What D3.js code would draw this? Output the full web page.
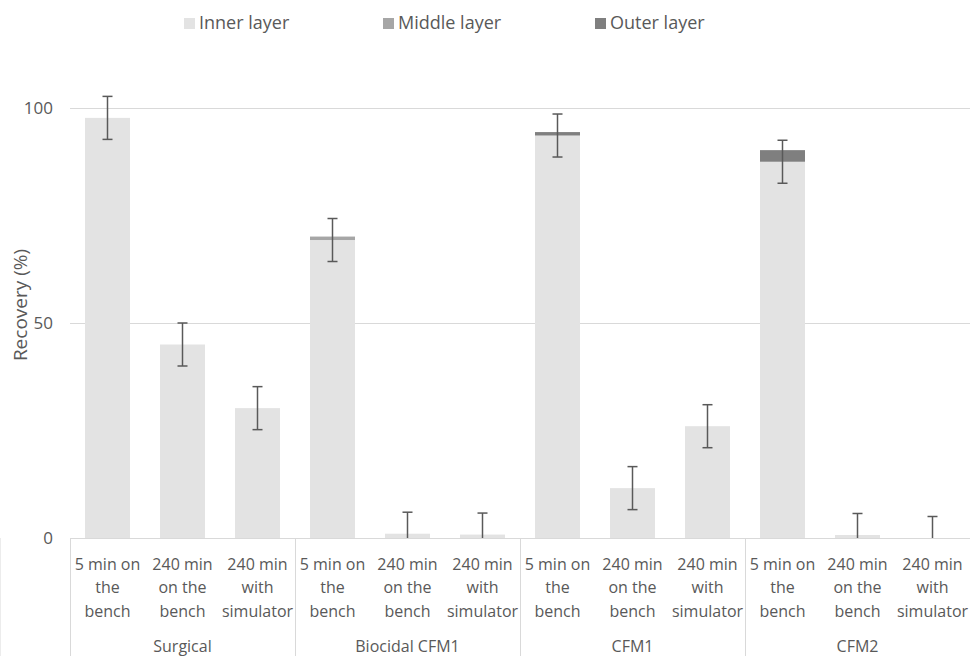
<!DOCTYPE html>
<meta charset="utf-8">
<style>
body { margin: 0; background: #fff; }
text { font-family: "Open Sans", Lato, sans-serif; fill: #595959; }
</style>
<script src="https://d3js.org/d3.v7.min.js"></script>
<body>
<script>

var width = 972, height = 656

// data
var groups = ["Surgical", "Biocidal CFM1", "CFM1", "CFM2"]
var conditions = [["5 min on", "the", "bench"], ["240 min", "on the", "bench"], ["240 min", "with", "simulator"]]
var inner  = [97.7, 45, 30.2,  69.3, 1, 0.8,  93.6, 11.6, 26,  87.5, 0.7, 0]
var middle = [0, 0, 0,  0.8, 0, 0,  0, 0, 0,  0, 0, 0]
var outer  = [0, 0, 0,  0, 0, 0,  0.8, 0, 0,  2.7, 0, 0]
var errs   = [5, 5, 5,  5, 5, 5,  5, 5, 5,  5, 5, 5]
var layers = ["Inner layer", "Middle layer", "Outer layer"]
var colors = ["#e3e3e3", "#a6a6a6", "#7f7f7f"]
var yTicks = [0, 50, 100]

var rows = inner.map((v, i) => ({i: i, inner: v, middle: middle[i], outer: outer[i], err: errs[i]}))

var svg = d3.select("body").append("svg").attr("width", width).attr("height", height)
  .style("display", "block")

var x = d3.scaleBand().domain(d3.range(12)).range([70, 970]).paddingInner(0.4).paddingOuter(0.2)
var y = d3.scaleLinear().domain([0, 100]).range([538, 108])

// gridlines
svg.append("g").selectAll("line").data(yTicks.slice(1)).enter().append("line")
  .attr("x1", 70).attr("x2", 970)
  .attr("y1", d => y(d) + 0.5).attr("y2", d => y(d) + 0.5)
  .attr("stroke", "#d9d9d9").attr("stroke-width", 1)

// y tick labels
svg.append("g").selectAll("text").data(yTicks).enter().append("text")
  .attr("x", 53).attr("y", d => y(d)).attr("dy", "0.35em")
  .attr("text-anchor", "end").style("font-size", "17px")
  .text(d => d)

svg.append("text")
  .attr("transform", "translate(20,305) rotate(-90)")
  .attr("text-anchor", "middle").attr("dy", "0.35em")
  .style("font-size", "19px")
  .text("Recovery (%)")

// stacked bars
var stack = d3.stack().keys(["inner", "middle", "outer"])(rows)
svg.append("g").selectAll("g").data(stack).enter().append("g")
  .attr("fill", (d, k) => colors[k])
  .selectAll("rect").data(d => d).enter().append("rect")
  .attr("x", d => x(d.data.i)).attr("width", x.bandwidth())
  .attr("y", d => y(d[1])).attr("height", d => y(d[0]) - y(d[1]))

// error bars, centred on inner layer, clipped at 0
var eb = svg.append("g").attr("stroke", "#595959").attr("stroke-width", 1.5)
rows.forEach(d => {
  var cx = x(d.i) + x.bandwidth() / 2
  var hi = d.inner + d.err, lo = Math.max(0, d.inner - d.err)
  eb.append("line").attr("x1", cx).attr("x2", cx).attr("y1", y(hi)).attr("y2", y(lo))
  eb.append("line").attr("x1", cx - 5).attr("x2", cx + 5).attr("y1", y(hi)).attr("y2", y(hi))
  if (d.inner - d.err > 0)
    eb.append("line").attr("x1", cx - 5).attr("x2", cx + 5).attr("y1", y(lo)).attr("y2", y(lo))
})

// category axis box
var ax = svg.append("g").attr("stroke", "#d9d9d9").attr("stroke-width", 1)
ax.append("line").attr("x1", 70).attr("x2", 970).attr("y1", 538.5).attr("y2", 538.5)
d3.range(5).forEach(g => {
  var gx = Math.round(x(g * 3) - x.step() * 0.2) + 0.5
  ax.append("line").attr("x1", gx).attr("x2", gx).attr("y1", 538).attr("y2", 656)
})

// condition labels
var lab = svg.append("g")
rows.forEach(d => {
  var cx = x(d.i) + x.bandwidth() / 2
  conditions[d.i % 3].forEach((t, j) => {
    lab.append("text").attr("x", cx).attr("y", 564 + j * 23.5).attr("dy", "0.35em")
      .attr("text-anchor", "middle").style("font-size", "16px").text(t)
  })
})
groups.forEach((g, k) => {
  var cx = x(k * 3 + 1) + x.bandwidth() / 2
  lab.append("text").attr("x", cx).attr("y", 646).attr("dy", "0.35em")
    .attr("text-anchor", "middle").style("font-size", "16px").text(g)
})

// legend
var legX = [184, 383, 595]
var leg = svg.append("g").selectAll("g").data(layers).enter().append("g")
  .attr("transform", (d, k) => "translate(" + legX[k] + ",23)")
leg.append("rect").attr("x", 0).attr("y", -5).attr("width", 11).attr("height", 11)
  .attr("fill", (d, k) => colors[k])
leg.append("text").attr("x", 15).attr("dy", "0.35em").style("font-size", "18px").text(d => d)

</script>
</body>
